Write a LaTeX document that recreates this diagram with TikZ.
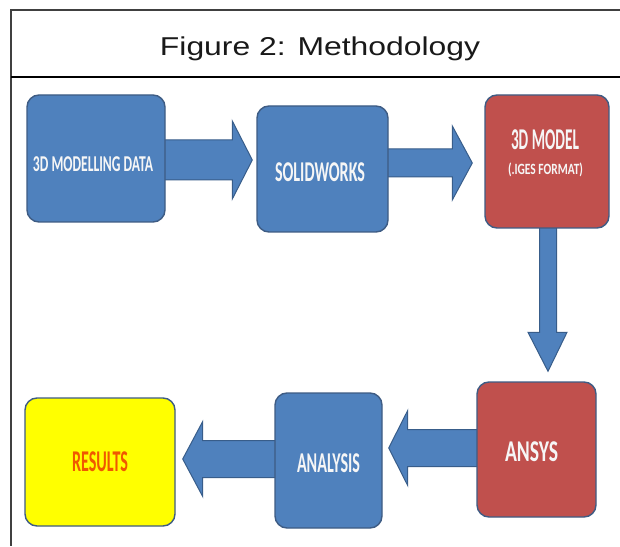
\documentclass[tikz,border=0pt]{standalone}
\usepackage{fontspec}
\setmainfont{Carlito}
\newfontfamily\titlefont{Liberation Sans}
\usetikzlibrary{calc}
\pgfdeclarelayer{background}
\pgfsetlayers{background,main}
\definecolor{bblue}{RGB}{79,129,189}
\definecolor{bred}{RGB}{192,80,77}
\definecolor{byel}{RGB}{255,255,0}
\definecolor{bedge}{RGB}{62,92,132}
\definecolor{aedge}{RGB}{56,93,138}
\definecolor{boxtext}{RGB}{246,246,246}
\definecolor{restext}{RGB}{240,88,0}
\definecolor{titletext}{RGB}{25,25,25}
\tikzset{
  box/.style={draw=bedge, line width=1.4pt, rounded corners=12pt, inner sep=0pt},
  bluebox/.style={box, fill=bblue},
  redbox/.style={box, fill=bred},
  yellowbox/.style={box, fill=byel},
  barrow/.style={fill=bblue, draw=aedge, line width=1pt, line join=miter},
  lbl/.style={inner sep=0pt, text=boxtext, font=\bfseries},
}
\newcommand\fitbox[3]{\resizebox*{#1}{#2}{#3}}
\begin{document}
\begin{tikzpicture}[x=1pt,y=1pt]
\useasboundingbox (0,0) rectangle (620,546);
% frame
\coordinate (ftr) at (620,536);
\coordinate (ftl) at (11,536);
\coordinate (fbl) at (11,0);
\coordinate (sl) at (11,469);
\coordinate (sr) at (620,469);
\draw[black!75, line width=1.3pt] (ftr) -- (ftl) -- (fbl);
\draw[black, line width=2pt] (sl) -- (sr);
% title
\node[anchor=base, inner sep=0pt, text=titletext] (title) at (320,490)
  {\titlefont\resizebox{320pt}{18.7pt}{Figure 2: Methodology}};
% boxes
\node[bluebox, minimum width=138pt, minimum height=127pt] (m1) at (96,387.5) {};
\node[bluebox, minimum width=131pt, minimum height=126pt] (sw) at (322.5,377) {};
\node[redbox, minimum width=124pt, minimum height=133pt] (mdl) at (547,384.5) {};
\node[redbox, minimum width=119pt, minimum height=135pt] (ans) at (536.5,96.5) {};
\node[bluebox, minimum width=107pt, minimum height=135pt] (ana) at (328.5,85.5) {};
\node[yellowbox, minimum width=150pt, minimum height=128pt] (res) at (100,84) {};
% labels
\node[lbl] (t1) at (93,381.5) {\fitbox{120pt}{15pt}{3D MODELLING DATA}};
\node[lbl] (t2) at (320,374) {\fitbox{90pt}{19pt}{SOLIDWORKS}};
\node[lbl] (t3) at (545,406) {\fitbox{68pt}{20pt}{3D MODEL}};
\node[lbl] (t4) at (545.5,376) {\fitbox{75pt}{14pt}{(.IGES FORMAT)}};
\node[lbl] (t5) at (531.5,94) {\fitbox{53pt}{20pt}{ANSYS}};
\node[lbl] (t6) at (328.5,82.5) {\fitbox{63pt}{19pt}{ANALYSIS}};
\node[lbl, text=restext] (t7) at (100,84) {\fitbox{56pt}{20pt}{RESULTS}};
% block arrows
\begin{pgfonlayer}{background}
\fill[white] (0,0) rectangle (620,546);
\draw[barrow] let \p1=(m1.east), \p2=(sw.west) in
  (\x1-3pt,406pt) -- (\x2-24pt,406pt) -- (\x2-24pt,425pt) -- (\x2-4pt,386pt)
  -- (\x2-24pt,347pt) -- (\x2-24pt,366pt) -- (\x1-3pt,366pt) -- cycle;
\draw[barrow] let \p1=(sw.east), \p2=(mdl.west) in
  (\x1-3pt,397pt) -- (\x2-32pt,397pt) -- (\x2-32pt,420pt) -- (\x2-12pt,383pt)
  -- (\x2-32pt,346pt) -- (\x2-32pt,369pt) -- (\x1-3pt,369pt) -- cycle;
\draw[barrow] let \p1=(mdl.south), \p2=(ans.north) in
  (539.5pt,\y1+3pt) -- (539.5pt,\y2+49pt) -- (528pt,\y2+49pt) -- (548pt,\y2+10pt)
  -- (567pt,\y2+49pt) -- (556.5pt,\y2+49pt) -- (556.5pt,\y1+3pt) -- cycle;
\draw[barrow] let \p1=(ans.west), \p2=(ana.east) in
  (\x1+3pt,116.5pt) -- (\x2+25pt,116.5pt) -- (\x2+25pt,135.5pt) -- (\x2+6pt,98pt)
  -- (\x2+25pt,60.5pt) -- (\x2+25pt,79.5pt) -- (\x1+3pt,79.5pt) -- cycle;
\draw[barrow] let \p1=(ana.west), \p2=(res.east) in
  (\x1+3pt,105.5pt) -- (\x2+27pt,105.5pt) -- (\x2+27pt,124.5pt) -- (\x2+7pt,87pt)
  -- (\x2+27pt,49.5pt) -- (\x2+27pt,68.5pt) -- (\x1+3pt,68.5pt) -- cycle;
\end{pgfonlayer}
\end{tikzpicture}
\end{document}
